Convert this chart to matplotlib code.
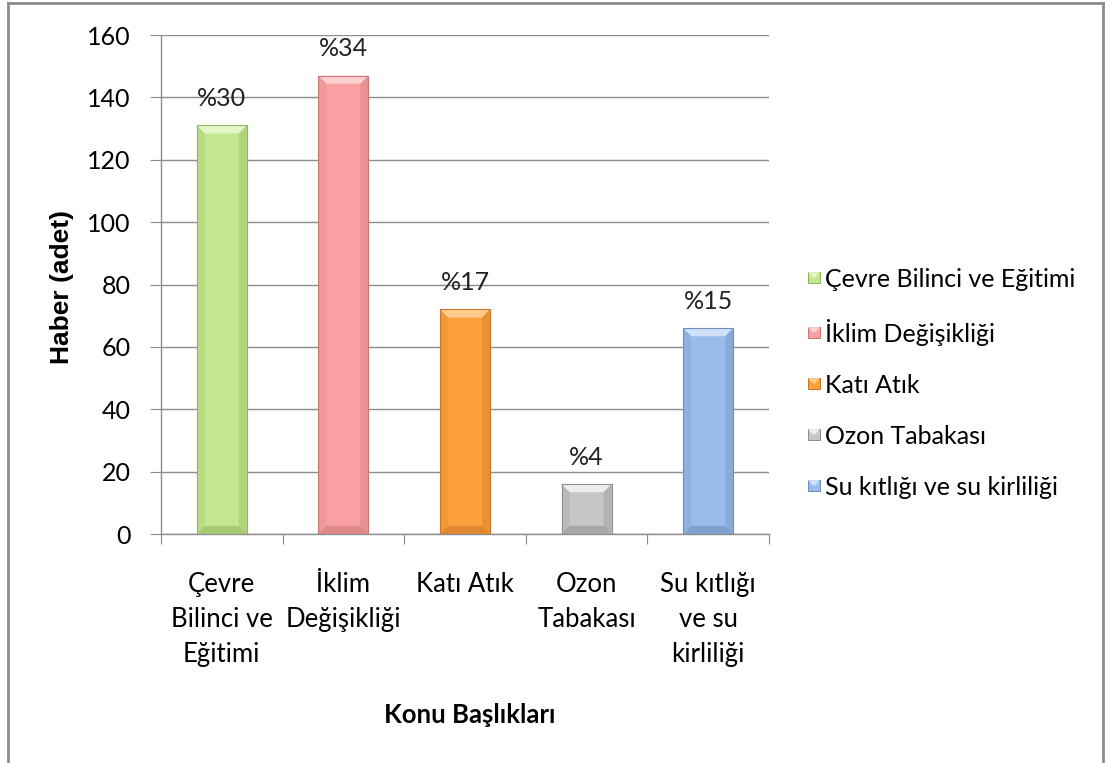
import matplotlib
matplotlib.use("Agg")
import matplotlib.pyplot as plt
from matplotlib.patches import Polygon, Rectangle
from matplotlib.lines import Line2D
from matplotlib.legend_handler import HandlerBase

categories = ["Çevre\nBilinci ve\nEğitimi", "İklim\nDeğişikliği", "Katı Atık",
              "Ozon\nTabakası", "Su kıtlığı\nve su\nkirliliği"]
legend_names = ["Çevre Bilinci ve Eğitimi", "İklim Değişikliği", "Katı Atık",
                "Ozon Tabakası", "Su kıtlığı ve su kirliliği"]
counts = [131, 147, 72, 16, 66]
percent_labels = ["%30", "%34", "%17", "%4", "%15"]
yticks = [0, 20, 40, 60, 80, 100, 120, 140, 160]

face = ["#C3E690", "#F9A1A2", "#FBA03B", "#C6C6C6", "#98BCEC"]
light = ["#E4F6C6", "#FDD2D2", "#FDCC8C", "#EDEDED", "#CFE0F8"]
dark = ["#8FB35E", "#C97475", "#C8742A", "#8E8E8E", "#6D8EBB"]

font = ["Lato", "DejaVu Sans"]
plt.rcParams["font.family"] = font

fig = plt.figure(figsize=(11.07, 7.63), dpi=100)
ax = fig.add_axes([0.1454, 0.3001, 0.5493, 0.654])

x = list(range(len(counts)))
bars = ax.bar(x, counts, width=0.41, color=face, edgecolor="none", zorder=3)

ax.set_xlim(-0.5, len(counts) - 0.5)
ax.set_ylim(0, 160)

# bevelled look for each bar
bx = 0.065   # bevel width in data x units
by = 2.6     # bevel height in data y units
for b, fc, lc, dc in zip(bars, face, light, dark):
    x0, w, h = b.get_x(), b.get_width(), b.get_height()
    x1 = x0 + w
    bev_y = min(by, h / 3)
    ax.add_patch(Polygon([(x0, h), (x1, h), (x1 - bx, h - bev_y), (x0 + bx, h - bev_y)],
                         closed=True, facecolor=lc, edgecolor="none", zorder=4))
    ax.add_patch(Polygon([(x0, 0), (x1, 0), (x1 - bx, bev_y), (x0 + bx, bev_y)],
                         closed=True, facecolor=dc, edgecolor="none", alpha=0.55, zorder=4))
    ax.add_patch(Polygon([(x1, 0), (x1, h), (x1 - bx, h - bev_y), (x1 - bx, bev_y)],
                         closed=True, facecolor=dc, edgecolor="none", alpha=0.35, zorder=4))
    ax.add_patch(Polygon([(x0, 0), (x0, h), (x0 + bx, h - bev_y), (x0 + bx, bev_y)],
                         closed=True, facecolor=dc, edgecolor="none", alpha=0.2, zorder=4))
    ax.add_patch(Rectangle((x0, 0), w, h, facecolor="none", edgecolor=dc,
                           linewidth=0.8, zorder=5))

for b, lab in zip(bars, percent_labels):
    ax.text(b.get_x() + b.get_width() / 2, b.get_height() + 5, lab,
            ha="center", va="bottom", fontsize=18, color="#222222", zorder=6)

ax.set_yticks(yticks)
ax.set_yticklabels([str(t) for t in yticks], fontsize=18)
ax.yaxis.grid(True, color="#8C8C8C", linewidth=1.0, zorder=0)
ax.set_axisbelow(True)

# category ticks at boundaries, labels at centres
ax.set_xticks([i - 0.5 for i in range(len(counts) + 1)])
ax.set_xticklabels([])
ax.set_xticks(x, minor=True)
ax.set_xticklabels(categories, minor=True, fontsize=18.5, linespacing=1.5)
ax.tick_params(axis="x", which="minor", length=0, pad=27)
ax.tick_params(axis="x", which="major", length=7, direction="out", color="#8C8C8C")
ax.tick_params(axis="y", length=8, direction="out", color="#8C8C8C", pad=14)
for lbl in ax.get_xticklabels(minor=True):
    lbl.set_va("top")

for side in ["top", "right"]:
    ax.spines[side].set_visible(False)
for side in ["left", "bottom"]:
    ax.spines[side].set_color("#8C8C8C")
    ax.spines[side].set_linewidth(1.0)

fig.text(0.056, 0.624, "Haber (adet)", fontsize=19, fontweight="bold", rotation=90,
         family=["Liberation Sans", "DejaVu Sans"], ha="center", va="center")
fig.text(0.4246, 0.063, "Konu Başlıkları", fontsize=18.5, fontweight="bold",
         ha="center", va="center")


class BevelHandler(HandlerBase):
    def __init__(self, fc, lc, dc):
        super().__init__()
        self.fc, self.lc, self.dc = fc, lc, dc

    def create_artists(self, legend, orig_handle, xdescent, ydescent,
                       width, height, fontsize, trans):
        s = min(width, height * 0.65)
        x0 = -xdescent + width - s
        y0 = -ydescent + (height - s) / 2
        r = Rectangle((x0, y0), s, s, facecolor=self.fc, edgecolor=self.dc,
                      linewidth=0.7, transform=trans)
        t = Polygon([(x0, y0 + s), (x0 + s, y0 + s), (x0 + s * 0.65, y0 + s * 0.55),
                     (x0 + s * 0.35, y0 + s * 0.55)], closed=True,
                    facecolor=self.lc, edgecolor="none", transform=trans)
        return [r, t]


handles = [Rectangle((0, 0), 1, 1) for _ in legend_names]
handler_map = {h: BevelHandler(fc, lc, dc)
               for h, fc, lc, dc in zip(handles, face, light, dark)}
fig.legend(handles, legend_names, handler_map=handler_map,
           loc="center left", bbox_to_anchor=(0.728, 0.498), frameon=False,
           borderpad=0, borderaxespad=0,
           fontsize=18, handlelength=0.55, handletextpad=0.22, labelspacing=1.12)

# outer chart border (left, top, right edges)
edge = "#8C8C8C"
fig.add_artist(Line2D([0.0075, 0.0075], [0.0, 0.996], transform=fig.transFigure,
                      color=edge, linewidth=2.0))
fig.add_artist(Line2D([0.0075, 0.9965], [0.996, 0.996], transform=fig.transFigure,
                      color=edge, linewidth=2.0))
fig.add_artist(Line2D([0.9965, 0.9965], [0.0, 0.996], transform=fig.transFigure,
                      color=edge, linewidth=2.0))

fig.savefig("out.png", dpi=100)
